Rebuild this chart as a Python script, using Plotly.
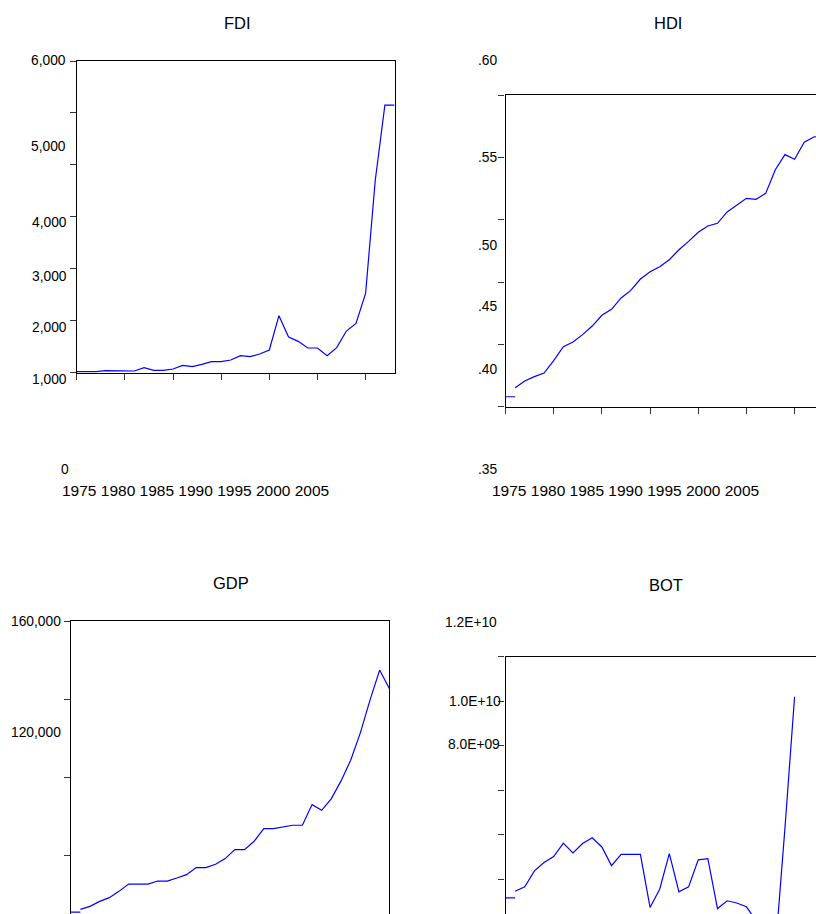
import plotly.graph_objects as go

# ---------------- data ----------------
years_fdi = list(range(1975, 2009))
fdi = [20, 20, 20, 39, 39, 33, 33, 97, 46, 46, 71, 142, 116, 161, 212, 212, 244,
       328, 308, 360, 437, 1097, 687, 603, 475, 475, 328, 482, 802, 949, 1526,
       3700, 5150, 5150]

years_main = list(range(1976, 2009))
hdi_first = 0.358
hdi = [0.3652, 0.3706, 0.3741, 0.3770, 0.3869, 0.3981, 0.4019, 0.4078, 0.4147,
       0.4233, 0.4281, 0.4372, 0.4433, 0.4524, 0.4583, 0.4623, 0.4679, 0.4759,
       0.4826, 0.4899, 0.4949, 0.4971, 0.5062, 0.5118, 0.5171, 0.5163, 0.5211,
       0.5401, 0.5522, 0.5484, 0.5621, 0.5663, 0.568]

gdp_first = 10726
gdp = [12112, 13652, 16220, 18120, 21355, 25104, 25104, 25104, 26644, 26644,
       28184, 29930, 33525, 33525, 35220, 38146, 42768, 42768, 47030, 53550,
       53550, 54400, 55260, 55260, 65840, 62930, 68920, 78000, 88600, 102650,
       119420, 134830, 125420]

years_bot = list(range(1976, 2006))
bot_first = 1.16e9
bot = [1.46e9, 1.655e9, 2.375e9, 2.75e9, 3.02e9, 3.62e9, 3.18e9, 3.60e9, 3.86e9,
       3.45e9, 2.61e9, 3.12e9, 3.12e9, 3.12e9, 0.73e9, 1.55e9, 3.15e9, 1.43e9,
       1.655e9, 2.87e9, 2.92e9, 0.68e9, 1.03e9, 0.93e9, 0.76e9, 0.14e9, -0.8e9,
       -1.2e9, 4.3e9, 1.02e10]

x_tick_years = [1975, 1980, 1985, 1990, 1995, 2000, 2005]
x_tick_labels = ["1975", "1980", "1985", "1990", "1995", "2000", "2005"]
fdi_tick_labels = ["6,000", "5,000", "4,000", "3,000", "2,000", "1,000", "0"]
hdi_tick_labels = [".60", ".55", ".50", ".45", ".40", ".35"]
gdp_tick_labels = ["160,000", "120,000"]
bot_tick_labels = ["1.2E+10", "1.0E+10", "8.0E+09"]
titles = ["FDI", "HDI", "GDP", "BOT"]

# ---------------- layout helpers ----------------
W, H = 816, 914
FONT = "Liberation Sans, Arial, sans-serif"
BLUE = "#0000FF"
TITLE_SIZE = 16.5
YLAB_SIZE = 13.8
XLAB_SIZE = 15.5


def px(x):
    return x / W


def py(y):
    return 1 - y / H


fig = go.Figure()
line_style = dict(color=BLUE, width=1.2)

# FDI (x1/y1)
fig.add_trace(go.Scatter(x=years_fdi, y=fdi, mode="lines", line=line_style,
                         xaxis="x", yaxis="y"))
# HDI (x2/y2)
fig.add_trace(go.Scatter(x=[1975, 1976], y=[hdi_first, hdi_first], mode="lines",
                         line=line_style, xaxis="x2", yaxis="y2"))
fig.add_trace(go.Scatter(x=years_main, y=hdi, mode="lines", line=line_style,
                         xaxis="x2", yaxis="y2"))
# GDP (x3/y3)
fig.add_trace(go.Scatter(x=[1975, 1976], y=[gdp_first, gdp_first], mode="lines",
                         line=line_style, xaxis="x3", yaxis="y3"))
fig.add_trace(go.Scatter(x=years_main, y=gdp, mode="lines", line=line_style,
                         xaxis="x3", yaxis="y3"))
# BOT (x4/y4)
fig.add_trace(go.Scatter(x=[1975, 1976], y=[bot_first, bot_first], mode="lines",
                         line=line_style, xaxis="x4", yaxis="y4"))
fig.add_trace(go.Scatter(x=years_bot, y=bot, mode="lines", line=line_style,
                         xaxis="x4", yaxis="y4"))

PPY = 318.0 / 33  # pixels per year
FRAME_H = 312.0

axis_common = dict(showgrid=False, zeroline=False, linecolor="black", linewidth=1.3,
                   tickcolor="#333333", ticklen=6, tickwidth=1, showticklabels=False,
                   fixedrange=True)

# visible lower bounds for panels that run below the window
gdp_lo = 160000 - (H - 621) / FRAME_H * 160000
bot_lo = 1.2e10 - (H - 656.7) / 311.5 * 1.4e10
hdi_xmax = 1975 + (W - 505.5) / PPY
bot_xmax = hdi_xmax

fig.update_layout(
    width=W, height=H, margin=dict(l=0, r=0, t=0, b=0),
    paper_bgcolor="white", plot_bgcolor="white", showlegend=False,
    hovermode=False,
    font=dict(family=FONT, color="black"),
    xaxis=dict(domain=[px(76.7), px(394.5)], range=[1975, 2008], anchor="y",
               tickvals=x_tick_years, ticks="outside", showline=True, mirror=True,
               **axis_common),
    yaxis=dict(domain=[py(372.7), py(61)], range=[0, 6000], anchor="x",
               tickvals=[0, 1000, 2000, 3000, 4000, 5000, 6000], ticks="outside",
               showline=True, mirror=True, **axis_common),
    xaxis2=dict(domain=[px(505.5), 1], range=[1975, hdi_xmax], anchor="y2",
                tickvals=x_tick_years, ticks="outside", showline=True, mirror=True,
                **axis_common),
    yaxis2=dict(domain=[py(406.7), py(95)], range=[0.35, 0.60], anchor="x2",
                tickvals=[0.35, 0.40, 0.45, 0.50, 0.55, 0.60], ticks="outside",
                showline=True, mirror=False, **axis_common),
    xaxis3=dict(domain=[px(70.7), px(389.3)], range=[1975, 2008], anchor="y3",
                side="top", ticks="", showline=True, mirror=False, **axis_common),
    yaxis3=dict(domain=[0, py(621)], range=[gdp_lo, 160000], anchor="x3",
                tickvals=[40000, 80000, 120000, 160000], ticks="outside",
                showline=True, mirror=True, **axis_common),
    xaxis4=dict(domain=[px(505.5), 1], range=[1975, bot_xmax], anchor="y4",
                side="top", ticks="", showline=True, mirror=False, **axis_common),
    yaxis4=dict(domain=[0, py(656.7)], range=[bot_lo, 1.2e10], anchor="x4",
                tickvals=[0, 2e9, 4e9, 6e9, 8e9, 1e10, 1.2e10], ticks="outside",
                showline=True, mirror=False, **axis_common),
)

ann = []


def add_text(text, x, y, xanchor, size):
    ann.append(dict(text=text, x=px(x), y=py(y), xref="paper", yref="paper",
                    xanchor=xanchor, yanchor="middle", showarrow=False,
                    font=dict(family=FONT, size=size, color="black")))


# titles
title_pos = [(237.3, 23.3), (668, 23), (231, 582.7), (666.3, 585)]
for t, (x, y) in zip(titles, title_pos):
    add_text(t, x, y, "center", TITLE_SIZE)

# FDI y labels (as drawn in the reference)
fdi_lab_pos = [(67.5, 61, "right"), (67.5, 146, "right"), (69, 222.3, "right"),
               (69, 276, "right"), (69, 327.7, "right"), (69, 380, "right"),
               (59, 469, "left")]
for t, (x, y, a) in zip(fdi_tick_labels, fdi_lab_pos):
    add_text(t, x, y, a, YLAB_SIZE)

# HDI y labels
hdi_ys = [61, 157.3, 245.7, 306.7, 369, 469]
for t, y in zip(hdi_tick_labels, hdi_ys):
    add_text(t, 476, y, "left", YLAB_SIZE)

# GDP y labels
for t, y in zip(gdp_tick_labels, [621, 732.7]):
    add_text(t, 62.5, y, "right", YLAB_SIZE)

# BOT y labels
bot_lab_pos = [(443, 622.3, "left"), (503, 701, "right"), (502, 744.3, "right")]
for t, (x, y, a) in zip(bot_tick_labels, bot_lab_pos):
    add_text(t, x, y, a, YLAB_SIZE)

# x tick label rows below top panels
x_row = " ".join(x_tick_labels)
add_text(x_row, 60, 490, "left", XLAB_SIZE)
add_text(x_row, 490, 490, "left", XLAB_SIZE)

fig.update_layout(annotations=ann)

fig.write_html("out.html", config={"displayModeBar": False},
               post_script="document.body.style.margin='0px';")
